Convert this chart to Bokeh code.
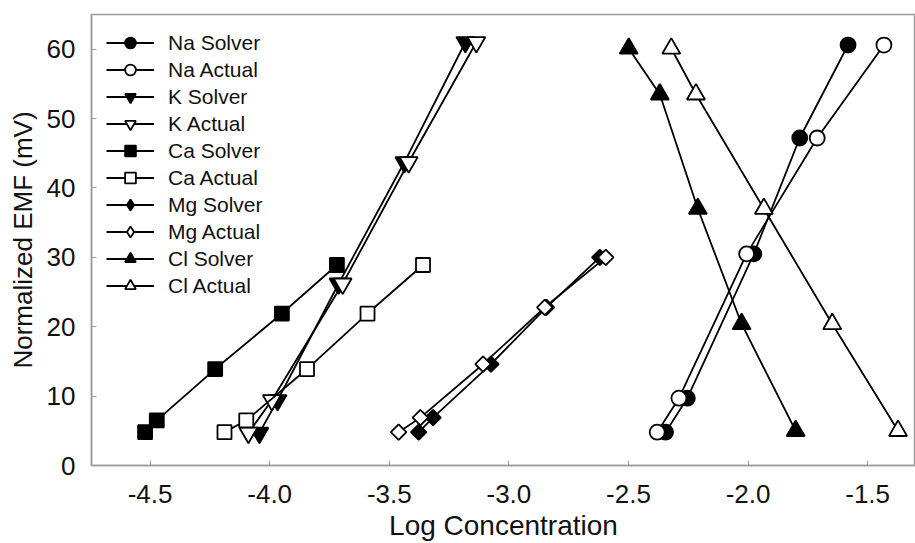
from bokeh.plotting import figure
from bokeh.models import FixedTicker, NumeralTickFormatter, Range1d, Legend, LegendItem
from bokeh.embed import file_html
from bokeh.resources import INLINE
import math

# ---- data ----
na_y = [4.8, 9.7, 30.5, 47.2, 60.6]
na_solver_x = [-2.345, -2.254, -1.976, -1.784, -1.582]
na_actual_x = [-2.380, -2.289, -2.006, -1.711, -1.432]

k_y = [4.7, 9.4, 26.2, 43.7, 61.0]
k_solver_x = [-4.043, -3.967, -3.712, -3.437, -3.182]
k_actual_x = [-4.089, -3.991, -3.695, -3.419, -3.136]

ca_y = [4.8, 6.5, 13.9, 21.9, 28.9]
ca_solver_x = [-4.521, -4.472, -4.228, -3.949, -3.719]
ca_actual_x = [-4.189, -4.098, -3.844, -3.591, -3.359]

mg_y = [4.8, 6.9, 14.6, 22.8, 30.0]
mg_solver_x = [-3.377, -3.317, -3.075, -2.843, -2.620]
mg_actual_x = [-3.461, -3.370, -3.108, -2.850, -2.595]

cl_y = [60.1, 53.5, 37.0, 20.4, 5.0]
cl_solver_x = [-2.499, -2.369, -2.210, -2.027, -1.801]
cl_actual_x = [-2.321, -2.218, -1.934, -1.648, -1.373]

x_ticks = [-4.5, -4.0, -3.5, -3.0, -2.5, -2.0, -1.5]
y_ticks = [0, 10, 20, 30, 40, 50, 60]

FONT = "Liberation Sans"
GREY = "#9a9a9a"
TXT = "#111111"

p = figure(width=915, height=543, output_backend="svg", toolbar_location=None,
           x_range=Range1d(-4.745, -1.30), y_range=Range1d(0, 65),
           min_border_left=91, min_border_right=0, min_border_top=14, min_border_bottom=78)
p.xgrid.visible = False
p.ygrid.visible = False
p.outline_line_color = GREY
p.outline_line_width = 1.5
p.background_fill_color = "white"
p.border_fill_color = "white"

series = [
    ("Na Solver", na_solver_x, na_y, "circle", "black", 15, 0),
    ("Na Actual", na_actual_x, na_y, "circle", "white", 15, 0),
    ("K Solver", k_solver_x, k_y, "inverted_triangle", "black", 18, 0),
    ("K Actual", k_actual_x, k_y, "inverted_triangle", "white", 18, 0),
    ("Ca Solver", ca_solver_x, ca_y, "square", "black", 14, 0),
    ("Ca Actual", ca_actual_x, ca_y, "square", "white", 14, 0),
    ("Mg Solver", mg_solver_x, mg_y, "square", "black", 11, math.pi / 4),
    ("Mg Actual", mg_actual_x, mg_y, "square", "white", 11, math.pi / 4),
    ("Cl Solver", cl_solver_x, cl_y, "triangle", "black", 18, 0),
    ("Cl Actual", cl_actual_x, cl_y, "triangle", "white", 18, 0),
]

items = []
for label, xs, ys, marker, fill, size, ang in series:
    ln = p.line(xs, ys, line_color="black", line_width=1.8)
    sc = p.scatter(xs, ys, marker=marker, size=size, angle=ang, fill_color=fill,
                   line_color="black", line_width=1.8)
    if ang:
        # legend swatch: the legend ignores marker rotation, so show a diamond there
        sw = p.scatter([float("nan")], [float("nan")], marker="diamond", size=size,
                       fill_color=fill, line_color="black", line_width=1.8)
        items.append(LegendItem(label=label, renderers=[ln, sw]))
    else:
        items.append(LegendItem(label=label, renderers=[ln, sc]))

lg = Legend(items=items, location="top_left")
lg.margin = 15
lg.padding = 0
lg.border_line_alpha = 0
lg.background_fill_alpha = 0
lg.glyph_width = 48
lg.glyph_height = 27
lg.label_height = 20
lg.spacing = 0
lg.label_standoff = 14
lg.label_text_font = FONT
lg.label_text_font_size = "21px"
lg.label_text_color = TXT
p.add_layout(lg)

# axes
for ax in (p.xaxis[0], p.yaxis[0]):
    ax.axis_line_color = GREY
    ax.axis_line_width = 1.5
    ax.major_tick_line_color = GREY
    ax.major_tick_in = 5
    ax.major_tick_out = 0
    ax.minor_tick_line_color = None
    ax.major_label_text_font = FONT
    ax.major_label_text_font_size = "26px"
    ax.major_label_text_color = TXT
    ax.axis_label_text_font = FONT
    ax.axis_label_text_font_style = "normal"
    ax.axis_label_text_color = TXT

p.xaxis[0].ticker = FixedTicker(ticks=x_ticks)
p.xaxis[0].formatter = NumeralTickFormatter(format="0.0")
p.xaxis[0].axis_label = "Log Concentration"
p.xaxis[0].axis_label_text_font_size = "28px"
p.xaxis[0].axis_label_text_line_height = 0.5
p.xaxis[0].major_label_standoff = 19
p.xaxis[0].axis_label_standoff = 4

p.yaxis[0].ticker = FixedTicker(ticks=y_ticks)
p.yaxis[0].formatter = NumeralTickFormatter(format="0")
p.yaxis[0].axis_label = "Normalized EMF (mV)"
p.yaxis[0].axis_label_text_font_size = "26px"
p.yaxis[0].major_label_standoff = 16
p.yaxis[0].axis_label_standoff = 6

open("out.html", "w").write(file_html(p, INLINE))
